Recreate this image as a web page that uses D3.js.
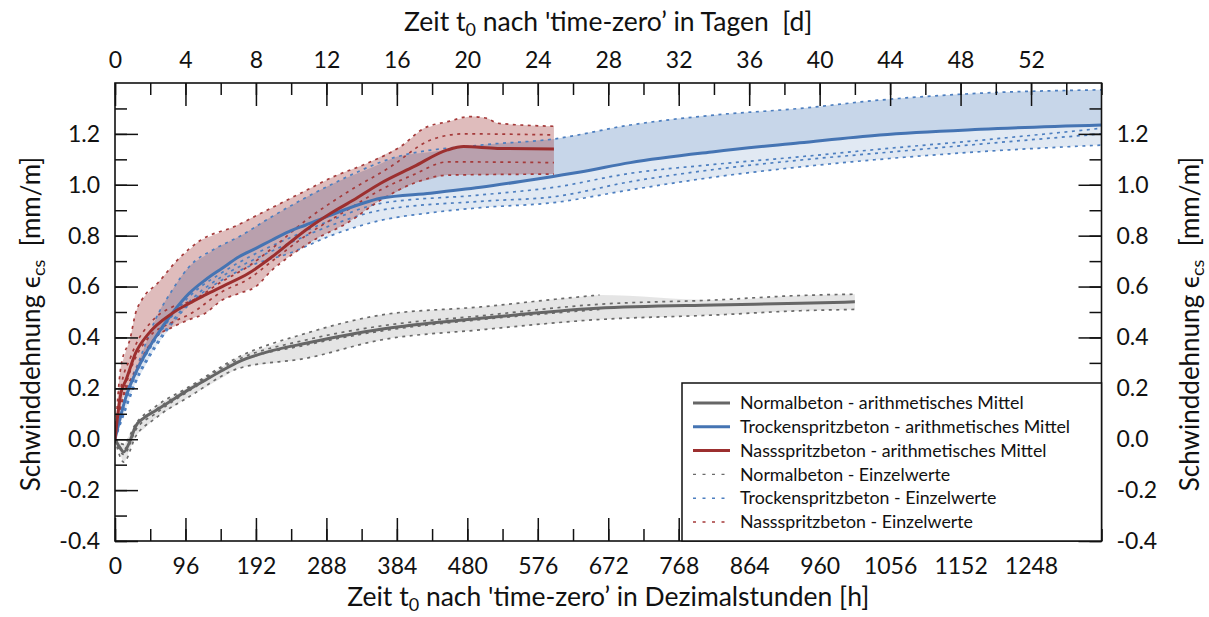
<!DOCTYPE html>
<html><head><meta charset="utf-8">
<script src="https://cdn.jsdelivr.net/npm/d3@7"></script>
<style>
body{margin:0;background:#fff;}
text{font-family:Lato,"Open Sans",sans-serif;fill:#111;}
</style></head>
<body><svg id="c" width="1209" height="617"></svg>
<script>
// ---------- data (hours, strain mm/m) ----------
const xTicksHours = [0,96,192,288,384,480,576,672,768,864,960,1056,1152,1248];
const xTicksDays = [0,4,8,12,16,20,24,28,32,36,40,44,48,52];
const yTicks = [-0.4,-0.2,0.0,0.2,0.4,0.6,0.8,1.0,1.2];

// Normalbeton
const nbMean = [[0,0],[6,-0.03],[12,-0.05],[20,-0.01],[28,0.05],[40,0.085],[55,0.112],[78,0.154],[101,0.196],[123,0.232],[146,0.27],[169,0.305],[214,0.348],[260,0.377],[362,0.432],[498,0.475],[657,0.515],[816,0.528],[934,0.534],[1008,0.54]];
const nbA = [[0,0],[12,-0.02],[28,0.06],[55,0.128],[101,0.206],[169,0.324],[260,0.416],[362,0.488],[498,0.52],[600,0.55],[660,0.567]];
const nbB = [[0,0],[12,-0.04],[28,0.05],[55,0.115],[101,0.2],[169,0.315],[260,0.39],[362,0.445],[498,0.485],[657,0.53],[816,0.547],[934,0.565],[1008,0.57]];
const nbC = [[0,0],[12,-0.06],[28,0.035],[55,0.1],[101,0.19],[169,0.305],[260,0.37],[362,0.425],[498,0.47],[660,0.51]];
const nbD = [[0,0],[12,-0.09],[28,0.01],[55,0.082],[101,0.167],[169,0.279],[260,0.318],[362,0.39],[498,0.43],[657,0.47],[816,0.488],[934,0.505],[1008,0.51]];

// Trockenspritzbeton
const tsMean = [[0,0],[15,0.167],[28,0.26],[42,0.338],[55,0.4],[78,0.495],[101,0.573],[123,0.626],[146,0.672],[169,0.717],[192,0.75],[214,0.783],[237,0.816],[260,0.842],[294,0.881],[362,0.947],[430,0.967],[498,0.99],[566,1.019],[634,1.05],[702,1.087],[816,1.13],[933,1.165],[1042,1.196],[1179,1.218],[1344,1.235]];
const tsA = [[0,0],[15,0.18],[33,0.31],[55,0.47],[78,0.586],[101,0.678],[137,0.75],[169,0.796],[214,0.875],[260,0.95],[294,1.0],[384,1.11],[498,1.156],[598,1.18],[702,1.235],[816,1.274],[933,1.3],[1042,1.333],[1179,1.36],[1344,1.373]];
const tsB = [[0,0],[15,0.15],[28,0.25],[55,0.39],[101,0.56],[146,0.655],[192,0.73],[237,0.79],[294,0.86],[362,0.927],[498,0.96],[598,0.99],[702,1.045],[816,1.08],[933,1.11],[1042,1.14],[1179,1.175],[1344,1.222]];
const tsC = [[0,0],[15,0.13],[28,0.23],[55,0.37],[101,0.54],[146,0.64],[192,0.71],[237,0.77],[294,0.84],[362,0.9],[498,0.935],[598,0.953],[702,1.012],[816,1.06],[933,1.097],[1042,1.125],[1179,1.16],[1344,1.2]];
const tsD = [[0,0],[15,0.12],[28,0.22],[55,0.36],[101,0.53],[146,0.626],[192,0.69],[237,0.73],[294,0.8],[362,0.86],[430,0.89],[498,0.91],[598,0.93],[702,0.98],[816,1.03],[933,1.07],[1042,1.1],[1179,1.13],[1344,1.156]];

// Nassspritzbeton
const nsMean = [[0,0],[8,0.18],[15,0.233],[28,0.338],[46,0.416],[78,0.495],[101,0.534],[123,0.567],[146,0.6],[182,0.652],[214,0.717],[237,0.77],[260,0.822],[294,0.888],[325,0.94],[362,1.006],[407,1.071],[453,1.137],[475,1.15],[521,1.143],[598,1.141]];
const nsA = [[0,0],[8,0.285],[21,0.4],[28,0.495],[37,0.55],[58,0.613],[85,0.704],[117,0.783],[162,0.835],[207,0.9],[253,0.967],[298,1.032],[344,1.085],[389,1.15],[421,1.222],[453,1.248],[484,1.268],[507,1.261],[521,1.242],[598,1.23]];
const nsB = [[0,0],[8,0.2],[21,0.32],[28,0.37],[46,0.45],[78,0.52],[101,0.54],[146,0.62],[182,0.68],[214,0.75],[260,0.86],[316,0.97],[375,1.07],[430,1.176],[475,1.2],[598,1.196]];
const nsC = [[0,0],[8,0.13],[21,0.27],[28,0.32],[46,0.4],[78,0.46],[101,0.49],[146,0.58],[182,0.63],[214,0.7],[260,0.8],[316,0.9],[362,0.98],[407,1.04],[453,1.09],[598,1.087]];
const nsD = [[0,0],[10,0.15],[28,0.27],[55,0.4],[78,0.44],[101,0.47],[123,0.495],[146,0.547],[169,0.573],[192,0.6],[214,0.665],[237,0.717],[271,0.783],[316,0.849],[362,0.94],[407,1.006],[453,1.038],[598,1.042]];

const legendLabels = ["Normalbeton - arithmetisches Mittel","Trockenspritzbeton - arithmetisches Mittel","Nassspritzbeton - arithmetisches Mittel","Normalbeton - Einzelwerte","Trockenspritzbeton - Einzelwerte","Nassspritzbeton - Einzelwerte"];

const col = {gray:"#666666", blue:"#4574b3", red:"#9c2f2f"};
const dotCol = {gray:"#6a6a6a", blue:"#4d7fc0", red:"#a53a3a"};

// ---------- layout ----------
const L=115, R=1101.5, T=83, B=541;
const svg = d3.select("#c");
const x = d3.scaleLinear([0,1344],[L,R]);
const xd = d3.scaleLinear([0,56],[L,R]);
const y = d3.scaleLinear([-0.4,1.4],[B,T]);

svg.append("defs").append("clipPath").attr("id","clip")
  .append("rect").attr("x",L).attr("y",T).attr("width",R-L).attr("height",B-T);
const g = svg.append("g").attr("clip-path","url(#clip)");

function interp(s,h){
  for(let i=1;i<s.length;i++){ if(h<=s[i][0]){const a=s[i-1],b=s[i];const t=(h-a[0])/(b[0]-a[0]||1);return a[1]+t*(b[1]-a[1]);} }
  return s[s.length-1][1];
}
function envelope(specs, mean){
  const hs = Array.from(new Set(specs.concat([mean]).flatMap(s=>s.map(p=>p[0])))).sort((a,b)=>a-b);
  return hs.map(h=>{
    const vals = specs.filter(s=>h>=s[0][0] && h<=s[s.length-1][0]).map(s=>interp(s,h));
    const m = (h<=mean[mean.length-1][0]) ? interp(mean,h) : null;
    return {h, lo:d3.min(vals), hi:d3.max(vals), m};
  }).filter(d=>d.lo!==undefined);
}
const area = (lo,hi)=>d3.area().curve(d3.curveMonotoneX).x(d=>x(d.h)).y0(d=>y(lo(d))).y1(d=>y(hi(d)));
const line = d3.line().curve(d3.curveMonotoneX).x(d=>x(d[0])).y(d=>y(d[1]));

const nbEnv = envelope([nbA,nbB,nbC,nbD], nbMean);
const tsEnv = envelope([tsA,tsB,tsC,tsD], tsMean);
const nsEnv = envelope([nsA,nsB,nsC,nsD], nsMean);

g.append("path").datum(nbEnv).attr("d",area(d=>d.lo,d=>d.hi)).attr("fill","#dadada").attr("fill-opacity",0.7);
g.append("path").datum(tsEnv).attr("d",area(d=>d.lo,d=>d.hi)).attr("fill",col.blue).attr("fill-opacity",0.16);
g.append("path").datum(tsEnv).attr("d",area(d=>d.m,d=>d.hi)).attr("fill",col.blue).attr("fill-opacity",0.16);
g.append("path").datum(nsEnv).attr("d",area(d=>d.lo,d=>d.hi)).attr("fill",col.red).attr("fill-opacity",0.32);

const dash="3,4.5";
[[nbA,nbB,nbC,nbD,"gray"],[tsA,tsB,tsC,tsD,"blue"],[nsA,nsB,nsC,nsD,"red"]].forEach(grp=>{
  const c=grp[4];
  grp.slice(0,4).forEach(s=>{
    g.append("path").datum(s).attr("d",line).attr("fill","none").attr("stroke",dotCol[c]).attr("stroke-width",1.7).attr("stroke-dasharray",dash);
  });
});
[[nbMean,"gray"],[tsMean,"blue"],[nsMean,"red"]].forEach(([s,c])=>{
  g.append("path").datum(s).attr("d",line).attr("fill","none").attr("stroke",col[c]).attr("stroke-width",3);
});

// ---------- axes ----------
const FONT = "Lato,'Open Sans',sans-serif";
function styleAxis(sel){
  sel.selectAll("path.domain").remove();
  sel.selectAll("line").attr("stroke","#111").attr("stroke-width",1.5);
  sel.selectAll("text").attr("font-size",23).style("font-family",FONT);
}
const fmtY = v => d3.format(".1f")(v).replace("\u2212","-");
const minorH = d3.range(0,1345,48);
const minorD = d3.range(0,57,2);
const minorY = d3.range(-4,14).map(i=>i/10);

svg.append("g").attr("transform",`translate(0,${B})`).call(d3.axisBottom(x).tickValues(minorH).tickSize(-12).tickFormat("")).call(styleAxis);
svg.append("g").attr("transform",`translate(0,${B})`).call(d3.axisBottom(x).tickValues(xTicksHours).tickSize(-23).tickPadding(17).tickFormat(d3.format("d"))).call(styleAxis);
svg.append("g").attr("transform",`translate(0,${T})`).call(d3.axisTop(xd).tickValues(minorD).tickSize(-12).tickFormat("")).call(styleAxis);
svg.append("g").attr("transform",`translate(0,${T})`).call(d3.axisTop(xd).tickValues(xTicksDays).tickSize(-23).tickPadding(15).tickFormat(d3.format("d"))).call(styleAxis);
svg.append("g").attr("transform",`translate(${L},0)`).call(d3.axisLeft(y).tickValues(minorY).tickSize(-12).tickFormat("")).call(styleAxis);
svg.append("g").attr("transform",`translate(${L},0)`).call(d3.axisLeft(y).tickValues(yTicks).tickSize(-23).tickPadding(15).tickFormat(fmtY)).call(styleAxis);
svg.append("g").attr("transform",`translate(${R},0)`).call(d3.axisRight(y).tickValues(minorY).tickSize(-12).tickFormat("")).call(styleAxis);
svg.append("g").attr("transform",`translate(${R},0)`).call(d3.axisRight(y).tickValues(yTicks).tickSize(-23).tickPadding(15).tickFormat(fmtY)).call(styleAxis);

svg.append("rect").attr("x",L).attr("y",T).attr("width",R-L).attr("height",B-T).attr("fill","none").attr("stroke","#111").attr("stroke-width",1.6);

// ---------- legend ----------
const lg = svg.append("g");
lg.append("rect").attr("x",682).attr("y",383).attr("width",R-682).attr("height",B-383).attr("fill","#fff").attr("stroke","#111").attr("stroke-width",1.5);
const legCols=[col.gray,col.blue,col.red,dotCol.gray,dotCol.blue,dotCol.red];
legendLabels.forEach((t,i)=>{
  const yy = 403 + i*23.8;
  lg.append("line").attr("x1",693).attr("x2",730).attr("y1",yy).attr("y2",yy)
    .attr("stroke",legCols[i]).attr("stroke-width",i<3?3:1.4).attr("stroke-dasharray",i<3?null:"3,6.5");
  lg.append("text").attr("x",740).attr("y",yy).attr("dy","0.35em").attr("font-size",17.8).text(t);
});

// ---------- titles ----------
function tTitle(x0, y0, rest){
  const t = svg.append("text").attr("x",x0).attr("y",y0).attr("text-anchor","middle").attr("font-size",26.5);
  t.append("tspan").text("Zeit t");
  t.append("tspan").attr("font-size",18).attr("dy",5).text("0");
  t.append("tspan").attr("dy",-5).text(" nach 'time-zero’ in "+rest);
  return t;
}
tTitle((L+R)/2, 31, "Tagen\u00a0 [d]");
tTitle((L+R)/2, 606, "Dezimalstunden [h]");
function yTitle(cx){
  const t = svg.append("text").attr("transform",`translate(${cx},${(T+B)/2+12}) rotate(-90)`).attr("text-anchor","middle").attr("font-size",26);
  t.append("tspan").text("Schwinddehnung ϵ");
  t.append("tspan").attr("font-size",18).attr("dy",5).text("cs");
  t.append("tspan").attr("dy",-5).text("\u00a0 [mm/m]");
}
yTitle(40);
yTitle(1199);
</script></body></html>
